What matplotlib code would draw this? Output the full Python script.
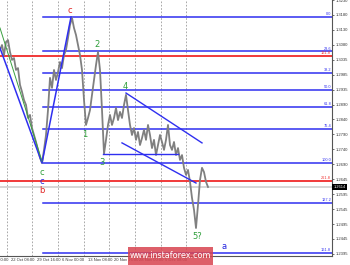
import matplotlib
matplotlib.use("Agg")
import matplotlib.pyplot as plt
import matplotlib.transforms as mtransforms
import numpy as np

# GBP/USD H4, one close every ~2 px of the original chart
prices = [1.3066, 1.3082, 1.3049, 1.3092, 1.3098, 1.3059, 1.3033, 1.3039, 1.3000, 1.3006,
          1.2951, 1.2928, 1.2901, 1.2885, 1.2842, 1.2852, 1.2809, 1.2786, 1.2763, 1.2737,
          1.2711, 1.2694, 1.2737, 1.2786, 1.2868, 1.2974, 1.2941, 1.3000, 1.2967, 1.2993,
          1.3026, 1.3006, 1.3049, 1.3066, 1.3105, 1.3148, 1.3171, 1.3138, 1.3115, 1.3082,
          1.3049, 1.3000, 1.2901, 1.2819, 1.2842, 1.2868, 1.2918, 1.2967, 1.3016, 1.3059,
          1.3000, 1.2868, 1.2724, 1.2770, 1.2819, 1.2852, 1.2819, 1.2842, 1.2875, 1.2835,
          1.2862, 1.2842, 1.2885, 1.2918, 1.2868, 1.2819, 1.2786, 1.2809, 1.2770, 1.2796,
          1.2753, 1.2776, 1.2803, 1.2770, 1.2819, 1.2786, 1.2743, 1.2770, 1.2720, 1.2753,
          1.2786, 1.2763, 1.2737, 1.2770, 1.2819, 1.2753, 1.2737, 1.2763, 1.2720, 1.2743,
          1.2704, 1.2720, 1.2678, 1.2655, 1.2671, 1.2632, 1.2579, 1.2540, 1.2480, 1.2556,
          1.2638, 1.2678, 1.2664, 1.2632, 1.2615]
last_price = 1.2614

# fibonacci grid drawn from wave c low to wave C high
fib_high = 1.3174
fib_low = 1.2694
fib_ratios = [0.0, 23.6, 38.2, 50.0, 61.8, 76.4, 100.0, 127.2, 161.8]
fib_start = 21.5

red_levels = [1.3046, 1.2635]
red_labels = ["161.8", "261.8"]

price_ticks = np.linspace(1.3230, 1.2395, 18)
price_labels = ["1.3230", "1.3180", "1.3130", "1.3080", "1.3035", "1.2985", "1.2935",
                "1.2890", "1.2840", "1.2790", "1.2740", "1.2690", "1.2645", "1.2595",
                "1.2545", "1.2495", "1.2445", "1.2395"]

time_labels = ["15 Oct 00:00", "22 Oct 08:00", "29 Oct 16:00", "6 Nov 00:00", "13 Nov 08:00",
               "20 Nov 16:00", "28 Nov 00:00", "5 Dec 08:00"]
first_tick = -9.6
tick_step = 12.85
n_grid = 9

# wave markup lines
zigzag_x = [0, 21, 35.5]
zigzag_y = [1.3072, 1.2694, 1.3174]
green_x = [0, 21]
green_y = [1.3138, 1.2700]
chan_up_x = [63, 101]
chan_up_y = [1.2924, 1.2760]
chan_lo_x = [61, 98]
chan_lo_y = [1.2760, 1.2628]
w3_level = 1.2724
w3_span = [51.5, 89]

waves = [("c", 35, 1.3197, "#e02424"), ("2", 48.5, 1.3085, "#2e9e3a"),
         ("4", 62.5, 1.2947, "#2e9e3a"), ("1", 42.5, 1.2789, "#2e9e3a"),
         ("3", 51, 1.2694, "#2e9e3a"), ("c", 21, 1.2661, "#2e9e3a"),
         ("c", 21, 1.2632, "#2424e0"), ("b", 21, 1.2602, "#e02424"),
         ("5?", 98.5, 1.2451, "#2e9e3a"), ("a", 112, 1.2418, "#2424e0")]

BLUE = "#2f2ff0"
RED = "#f02a2a"
SMALL = ["Liberation Sans Narrow", "Liberation Sans", "DejaVu Sans"]

fig = plt.figure(figsize=(3.5, 2.65), dpi=100)
ax = fig.add_axes([0, 9 / 265, 332 / 350, 256 / 265])
ax.set_xlim(0, 166)
ax.set_ylim(1.2388, 1.3230)

for k in range(1, n_grid):
    ax.axvline(first_tick + k * tick_step, color="#9a9a9a", lw=0.6, ls=(0, (2, 2)), zorder=0)

ax.axhline(last_price, color="#d0d0d0", lw=1.2, zorder=0)

for lvl, lab in zip(red_levels, red_labels):
    ax.axhline(lvl, color=RED, lw=1.3, zorder=1)
    ax.text(165.5, lvl + 0.0003, lab, color=RED, fontsize=2.8, ha="right", va="bottom", family=SMALL)

rng = fib_high - fib_low
for r in fib_ratios:
    lvl = fib_high - rng * r / 100
    ax.plot([fib_start, 166], [lvl, lvl], color=BLUE, lw=1.1, zorder=2)
    ax.text(165.5, lvl + 0.0003, "%.1f" % r, color=BLUE, fontsize=2.8, ha="right", va="bottom", family=SMALL)

ax.plot(np.arange(len(prices)), prices, color="#808080", lw=1.3, zorder=3)

ax.plot(zigzag_x, zigzag_y, color=BLUE, lw=1.1, zorder=4)
ax.plot(green_x, green_y, color="#3aa040", lw=0.7, zorder=4)
ax.plot(chan_up_x, chan_up_y, color=BLUE, lw=1.0, zorder=4)
ax.plot(chan_lo_x, chan_lo_y, color=BLUE, lw=1.0, zorder=4)
ax.plot(w3_span, [w3_level, w3_level], color=BLUE, lw=1.0, zorder=4)

for txt, x, y, c in waves:
    ax.text(x, y, txt, color=c, fontsize=6, ha="center", va="center", zorder=5)

# axes styling
for s in ["top", "left"]:
    ax.spines[s].set_visible(False)
for s in ["right", "bottom"]:
    ax.spines[s].set_color("#555555")
    ax.spines[s].set_linewidth(0.8)
ax.yaxis.tick_right()
ax.set_yticks(price_ticks)
ax.set_yticklabels(price_labels, family=SMALL)
ax.tick_params(axis="y", labelsize=3, length=1.5, width=0.5, pad=1.5, colors="#333333")
ax.set_xticks([])

trans = mtransforms.blended_transform_factory(ax.transData, ax.transAxes)
for k, lab in enumerate(time_labels):
    ax.text(first_tick + k * tick_step + 2.2, -0.008, lab, transform=trans, fontsize=3,
            ha="left", va="top", color="#333333", clip_on=False, family=SMALL)

ax.text(1.004, last_price, "1.2614", transform=mtransforms.blended_transform_factory(ax.transAxes, ax.transData),
        fontsize=2.8, color="white", ha="left", va="center", family=SMALL,
        bbox=dict(boxstyle="square,pad=0.25", fc="black", ec="none"))

# watermark
fig.patches.append(plt.Rectangle((128 / 350, 0), 85 / 350, 18 / 265, transform=fig.transFigure,
                                 facecolor="#d8434f", alpha=0.85, edgecolor="none", zorder=10))
fig.text(170.5 / 350, 9 / 265, "www.instaforex.com", color="white", fontsize=5.8,
         ha="center", va="center", zorder=11)

fig.savefig("out.png", dpi=100)
